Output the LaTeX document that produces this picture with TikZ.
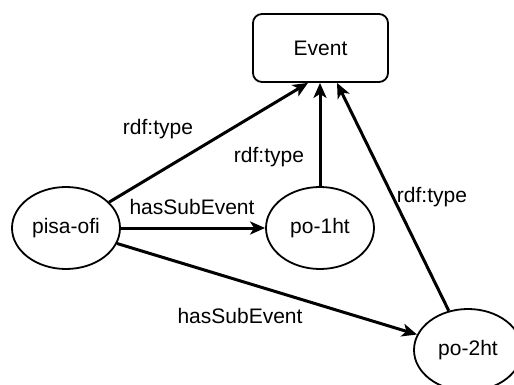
\documentclass[tikz,border=0pt]{standalone}
\usepackage{fontspec}
\setmainfont{Liberation Sans}
\usetikzlibrary{shapes.geometric,arrows.meta}
\begin{document}
\begin{tikzpicture}[x=1pt,y=-1pt,
  font=\fontsize{21}{24}\selectfont,
  classbox/.style={draw,line width=1.8pt,rounded corners=9pt,minimum width=135pt,minimum height=68pt,inner sep=0pt},
  inst/.style={draw,ellipse,line width=1.8pt,minimum width=108pt,minimum height=82pt,inner sep=0pt},
  rel/.style={line width=3pt,-{Stealth[length=15pt,width=13pt,inset=4pt]}},
  lbl/.style={inner sep=0pt}]
  \clip (0,0) rectangle (514,385);
  \useasboundingbox (0,0) rectangle (514,385);
  \fill[white] (0,0) rectangle (514,385);

  % nodes
  \node[classbox] (event) at (320.5,48) {Event};
  \node[inst] (pisa) at (66,228) {pisa-ofi};
  \node[inst] (po1) at (320,228) {po-1ht};
  \node[inst] (po2) at (468,350) {po-2ht};

  % arrow ends on the bottom of the class box
  \coordinate (e1) at ([xshift=-12.5pt]event.south);
  \coordinate (e3) at ([xshift=16.5pt]event.south);

  % connectors
  \draw[rel] (pisa) -- (e1);
  \draw[rel] (po1.north) -- (po1.north |- event.south);
  \draw[rel] (po2) -- (e3);
  \draw[rel] (pisa) -- (po1);
  \draw[rel] (pisa) -- (po2);

  % labels
  \node[lbl] (l1) at (158,129) {rdf:type};
  \node[lbl] (l2) at (269,157) {rdf:type};
  \node[lbl] (l3) at (432,197) {rdf:type};
  \node[lbl] (l4) at (192,207) {hasSubEvent};
  \node[lbl] (l5) at (240,316) {hasSubEvent};
\end{tikzpicture}
\end{document}
